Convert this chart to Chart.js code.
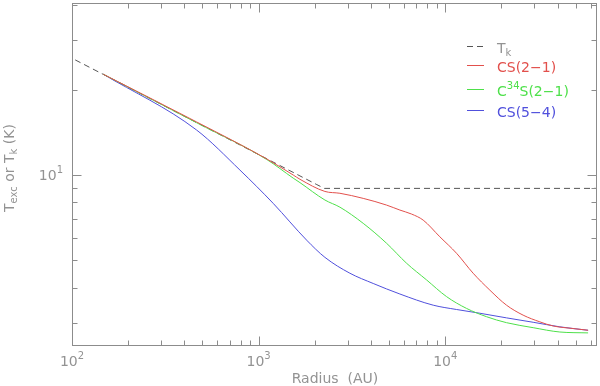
<!DOCTYPE html>
<html>
<head>
<meta charset="utf-8">
<script src="https://cdn.jsdelivr.net/npm/chart.js@4/dist/chart.umd.min.js"></script>
<style>
html,body{margin:0;padding:0;background:#fff;}
#wrap{width:600px;height:386px;position:relative;}
</style>
</head>
<body>
<div id="wrap"><canvas id="c" width="600" height="386"></canvas></div>
<script>
// ---- data (radius in AU, temperature in K) ----
const radiusTk = [104, 2050, 2250, 65000];
const tempTk   = [25.5, 9.25, 8.97, 8.97];

const radiusCS21 = [147, 465, 1104, 1532, 1665, 2265, 2725, 3634, 4849, 5712, 6596, 7615, 9354, 11500, 14100, 17340, 21290, 26130, 32130, 37840, 48420, 58240];
const tempCS21   = [22.7, 15.4, 11.4, 10.0, 9.66, 8.75, 8.62, 8.27, 7.83, 7.52, 7.28, 6.93, 6.05, 5.29, 4.50, 3.92, 3.47, 3.20, 3.03, 2.93, 2.87, 2.83];

const radiusC34S21 = [147, 465, 1104, 1532, 1665, 2265, 2725, 3634, 4849, 6204, 7943, 10160, 13000, 16630, 21290, 29580, 41100, 58240];
const tempC34S21   = [22.7, 15.3, 11.35, 9.75, 9.4, 8.16, 7.7, 6.75, 5.74, 4.88, 4.26, 3.72, 3.38, 3.16, 3.01, 2.89, 2.79, 2.77];

const radiusCS54 = [147, 465, 794, 1197, 1807, 2265, 3083, 4110, 5712, 8616, 11500, 15320, 21290, 29580, 41100, 58240];
const tempCS54   = [22.7, 14.42, 10.41, 7.94, 5.89, 5.12, 4.50, 4.14, 3.80, 3.47, 3.35, 3.25, 3.13, 3.02, 2.91, 2.83];

const xDecades = [100, 1000, 10000];   // labelled x ticks: 10^2, 10^3, 10^4
const xDecadeExp = ['2', '3', '4'];
const yDecades = [10];                 // labelled y tick: 10^1
const yDecadeExp = ['1'];

const xMin = 100, xMax = 65000, yMin = 2.49, yMax = 40.5;

const FONT = '"DejaVu Sans", sans-serif';
const AXIS_COLOR = '#8c8c8c';
const TEXT_COLOR = '#939393';
const RED = '#e2504c', GREEN = '#4ee04a', BLUE = '#5050dc', TKCOL = '#555555';

function pts(xs, ys){ return xs.map((x,i)=>({x:x, y:ys[i]})); }

function richWidth(ctx, parts){
  let w = 0;
  for (const p of parts){ ctx.font = p.size + 'px ' + FONT; w += ctx.measureText(p.t).width; }
  return w;
}
function drawRich(ctx, parts, x, y, align){
  const w = richWidth(ctx, parts);
  let cx = align === 'center' ? x - w/2 : (align === 'right' ? x - w : x);
  ctx.textBaseline = 'alphabetic';
  ctx.textAlign = 'left';
  for (const p of parts){
    ctx.font = p.size + 'px ' + FONT;
    ctx.fillText(p.t, cx, y + (p.dy||0));
    cx += ctx.measureText(p.t).width;
  }
}

const framePlugin = {
  id: 'frame',
  afterDraw(chart){
    const ctx = chart.ctx;
    const a = chart.chartArea;
    const xs = chart.scales.x, ys = chart.scales.y;
    ctx.save();
    ctx.strokeStyle = AXIS_COLOR;
    ctx.lineWidth = 1;
    ctx.setLineDash([]);
    const L = Math.round(a.left)+0.5, R = Math.round(a.right)-0.5, T = Math.round(a.top)+0.5, B = Math.round(a.bottom)-0.5;
    ctx.strokeRect(L, T, R-L, B-T);
    ctx.beginPath();
    for (let d = 100; d <= xMax; d *= 10){
      for (let m = 1; m <= 9; m++){
        const v = m*d;
        if (v < xMin || v > xMax) continue;
        const px = Math.round(xs.getPixelForValue(v)) + 0.5;
        const len = m === 1 ? 9 : 5;
        ctx.moveTo(px, B); ctx.lineTo(px, B - len);
        ctx.moveTo(px, T); ctx.lineTo(px, T + len);
      }
    }
    for (let d = 1; d <= 100; d *= 10){
      for (let m = 1; m <= 9; m++){
        const v = m*d;
        if (v < yMin || v > yMax) continue;
        const py = Math.round(ys.getPixelForValue(v)) + 0.5;
        const len = m === 1 ? 9 : 5;
        ctx.moveTo(L, py); ctx.lineTo(L + len, py);
        ctx.moveTo(R, py); ctx.lineTo(R - len, py);
      }
    }
    ctx.stroke();

    ctx.fillStyle = TEXT_COLOR;
    xDecades.forEach((v,i)=>{
      const px = xs.getPixelForValue(v);
      drawRich(ctx, [{t:'10', size:14}, {t:xDecadeExp[i], size:10, dy:-7}], px, 366, 'center');
    });
    yDecades.forEach((v,i)=>{
      const py = ys.getPixelForValue(v);
      drawRich(ctx, [{t:'10', size:14}, {t:yDecadeExp[i], size:10, dy:-7}], 63, py + 5, 'right');
    });

    drawRich(ctx, [{t:'Radius  (AU)', size:14}], 335, 383, 'center');
    ctx.save();
    ctx.translate(14, 168);
    ctx.rotate(-Math.PI/2);
    drawRich(ctx, [{t:'T', size:14}, {t:'exc', size:10, dy:3}, {t:' or T', size:14}, {t:'k', size:10, dy:3}, {t:' (K)', size:14}], 0, 0, 'center');
    ctx.restore();

    // legend
    const rows = [
      {y:46, color:TKCOL, dashed:true, text:[{t:'T', size:14}, {t:'k', size:10, dy:3}], tcol:TEXT_COLOR},
      {y:65, color:RED, dashed:false, text:[{t:'CS(2\u22121)', size:14}], tcol:RED},
      {y:89, color:GREEN, dashed:false, text:[{t:'C', size:14}, {t:'34', size:10, dy:-7}, {t:'S(2\u22121)', size:14}], tcol:GREEN},
      {y:110, color:BLUE, dashed:false, text:[{t:'CS(5\u22124)', size:14}], tcol:BLUE}
    ];
    rows.forEach(r=>{
      if (r.dashed){
        ctx.fillStyle = r.color;
        ctx.fillRect(467, r.y, 6, 1);
        ctx.fillRect(477, r.y, 6, 1);
      } else {
        ctx.fillStyle = r.color;
        ctx.fillRect(467, r.y, 17, 1);
      }
      ctx.fillStyle = r.tcol;
      drawRich(ctx, r.text, 497, r.y + 6.5, 'left');
    });
    ctx.restore();
  }
};

const ds = (label, xs, ys, color, dash) => ({
  label: label,
  data: pts(xs, ys),
  borderColor: color,
  borderWidth: 1,
  borderDash: dash || [],
  pointRadius: 0,
  fill: false,
  cubicInterpolationMode: 'monotone'
});

new Chart(document.getElementById('c'), {
  type: 'line',
  data: {
    datasets: [
      ds('CS(2-1)', radiusCS21, tempCS21, RED),
      ds('C34S(2-1)', radiusC34S21, tempC34S21, GREEN),
      ds('CS(5-4)', radiusCS54, tempCS54, BLUE),
      Object.assign(ds('Tk', radiusTk, tempTk, TKCOL, [6,4]), {cubicInterpolationMode:'default', tension:0})
    ]
  },
  options: {
    responsive: false,
    animation: false,
    devicePixelRatio: 1,
    layout: { padding: { left: 72, right: 3, top: 3, bottom: 40 } },
    plugins: { legend: { display: false }, tooltip: { enabled: false } },
    scales: {
      x: { type: 'logarithmic', min: xMin, max: xMax, display: false },
      y: { type: 'logarithmic', min: yMin, max: yMax, display: false }
    }
  },
  plugins: [framePlugin]
});
</script>
</body>
</html>
